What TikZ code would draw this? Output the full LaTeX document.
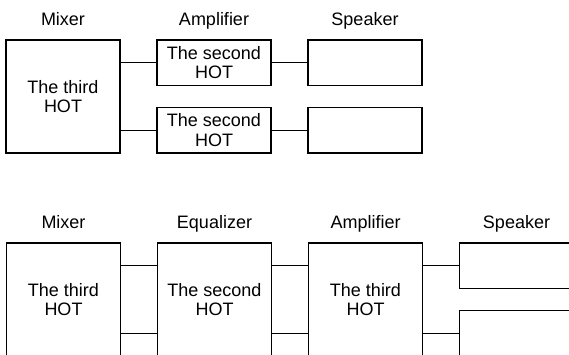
\documentclass[tikz,border=0pt]{standalone}
\usepackage{fontspec}
\setmainfont{Liberation Sans}
\usetikzlibrary{positioning,calc}
\tikzset{
  blk/.style={draw, line width=1.2pt, outer sep=0pt, inner sep=0pt, minimum width=114pt,
              align=center, font=\fontsize{18}{19.5}\selectfont},
  tallblk/.style={blk, minimum height=113pt},
  shortblk/.style={blk, minimum height=45.5pt},
  stage/.style={font=\fontsize{18}{19.5}\selectfont, inner sep=0pt},
  wire/.style={line width=1.2pt}
}
\begin{document}
\begin{tikzpicture}[x=1pt,y=-1pt]
\clip (0,0) rectangle (569,354);
% upper chain
\node[tallblk] (mixA) at (63,96.5) {The third\\HOT};
\node[shortblk, right=37pt of mixA.north east, anchor=north west] (ampA1) {The second\\HOT};
\node[shortblk, right=37pt of mixA.south east, anchor=south west] (ampA2) {The second\\HOT};
\node[shortblk, right=37pt of ampA1] (spkA1) {};
\node[shortblk, right=37pt of ampA2] (spkA2) {};
\node[stage, above=15pt of mixA.north, anchor=base] (lblMixA) {Mixer};
\node[stage, above=15pt of ampA1.north, anchor=base] (lblAmpA) {Amplifier};
\node[stage, above=15pt of spkA1.north, anchor=base] (lblSpkA) {Speaker};
\draw[wire] (mixA.east |- ampA1) -- (ampA1.west);
\draw[wire] (mixA.east |- ampA2) -- (ampA2.west);
\draw[wire] (ampA1) -- (spkA1);
\draw[wire] (ampA2) -- (spkA2);
% lower chain
\node[tallblk] (mixB) at (63.5,299.5) {The third\\HOT};
\node[tallblk, right=37pt of mixB] (eqB) {The second\\HOT};
\node[tallblk, right=37pt of eqB] (ampB) {The third\\HOT};
\node[shortblk, right=37pt of ampB.north east, anchor=north west] (spkB1) {};
\node[shortblk, right=37pt of ampB.south east, anchor=south west] (spkB2) {};
\node[stage, above=15pt of mixB.north, anchor=base] (lblMixB) {Mixer};
\node[stage, above=15pt of eqB.north, anchor=base] (lblEqB) {Equalizer};
\node[stage, above=15pt of ampB.north, anchor=base] (lblAmpB) {Amplifier};
\node[stage, above=15pt of spkB1.north, anchor=base] (lblSpkB) {Speaker};
\draw[wire] (mixB.east |- spkB1) -- (eqB.west |- spkB1);
\draw[wire] (mixB.east |- spkB2) -- (eqB.west |- spkB2);
\draw[wire] (eqB.east |- spkB1) -- (ampB.west |- spkB1);
\draw[wire] (eqB.east |- spkB2) -- (ampB.west |- spkB2);
\draw[wire] (ampB.east |- spkB1) -- (spkB1.west);
\draw[wire] (ampB.east |- spkB2) -- (spkB2.west);
\end{tikzpicture}
\end{document}
